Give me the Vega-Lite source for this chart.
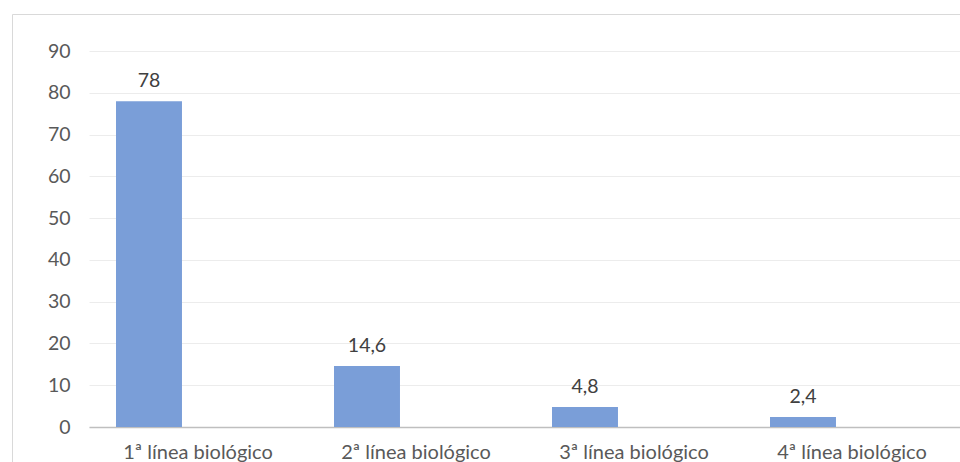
{
  "$schema": "https://vega.github.io/schema/vega-lite/v6.json",
  "autosize": {"type": "none"},
  "padding": {"left": 12, "top": 14, "right": 0, "bottom": 0},
  "width": 960,
  "height": 460,
  "background": "white",
  "config": {
    "locale": {"number": {"decimal": ",", "thousands": ".", "grouping": [3], "currency": ["", " €"]}},
    "view": {"stroke": "#d9d9d9", "strokeWidth": 1},
    "font": "Lato"
  },
  "data": {
    "values": [
      {"linea": "1ª línea biológico", "serie": "Pacientes", "porcentaje": 78},
      {"linea": "2ª línea biológico", "serie": "Pacientes", "porcentaje": 14.6},
      {"linea": "3ª línea biológico", "serie": "Pacientes", "porcentaje": 4.8},
      {"linea": "4ª línea biológico", "serie": "Pacientes", "porcentaje": 2.4}
    ]
  },
  "encoding": {
    "x": {
      "field": "linea",
      "type": "nominal",
      "sort": null,
      "scale": {"range": [77, 949], "paddingInner": 0, "paddingOuter": 0},
      "axis": {
        "title": null,
        "offset": -47,
        "labelAngle": 0,
        "labelFontSize": 20,
        "labelColor": "#595959",
        "labelPadding": 15,
        "ticks": false,
        "domainColor": "#bfbfbf",
        "domainWidth": 1.5
      }
    },
    "xOffset": {
      "field": "serie",
      "type": "nominal",
      "scale": {"domain": ["Pacientes", "Otros"], "paddingInner": 0.327, "paddingOuter": 0.2755}
    },
    "y": {
      "field": "porcentaje",
      "type": "quantitative",
      "scale": {"domain": [0, 90], "nice": false, "range": [413, 37]},
      "axis": {
        "title": null,
        "offset": -77,
        "values": [0, 10, 20, 30, 40, 50, 60, 70, 80, 90],
        "labelFontSize": 19.5,
        "labelColor": "#595959",
        "labelPadding": 19,
        "ticks": false,
        "domain": false,
        "gridColor": "#ececec",
        "gridWidth": 1
      }
    }
  },
  "layer": [
    {
      "mark": {"type": "bar", "color": "#7a9ed8"}
    },
    {
      "mark": {"type": "text", "baseline": "alphabetic", "dy": -14, "fontSize": 19.5, "color": "#404040"},
      "encoding": {
        "text": {"field": "porcentaje", "type": "quantitative", "format": ".1~f"}
      }
    }
  ]
}
